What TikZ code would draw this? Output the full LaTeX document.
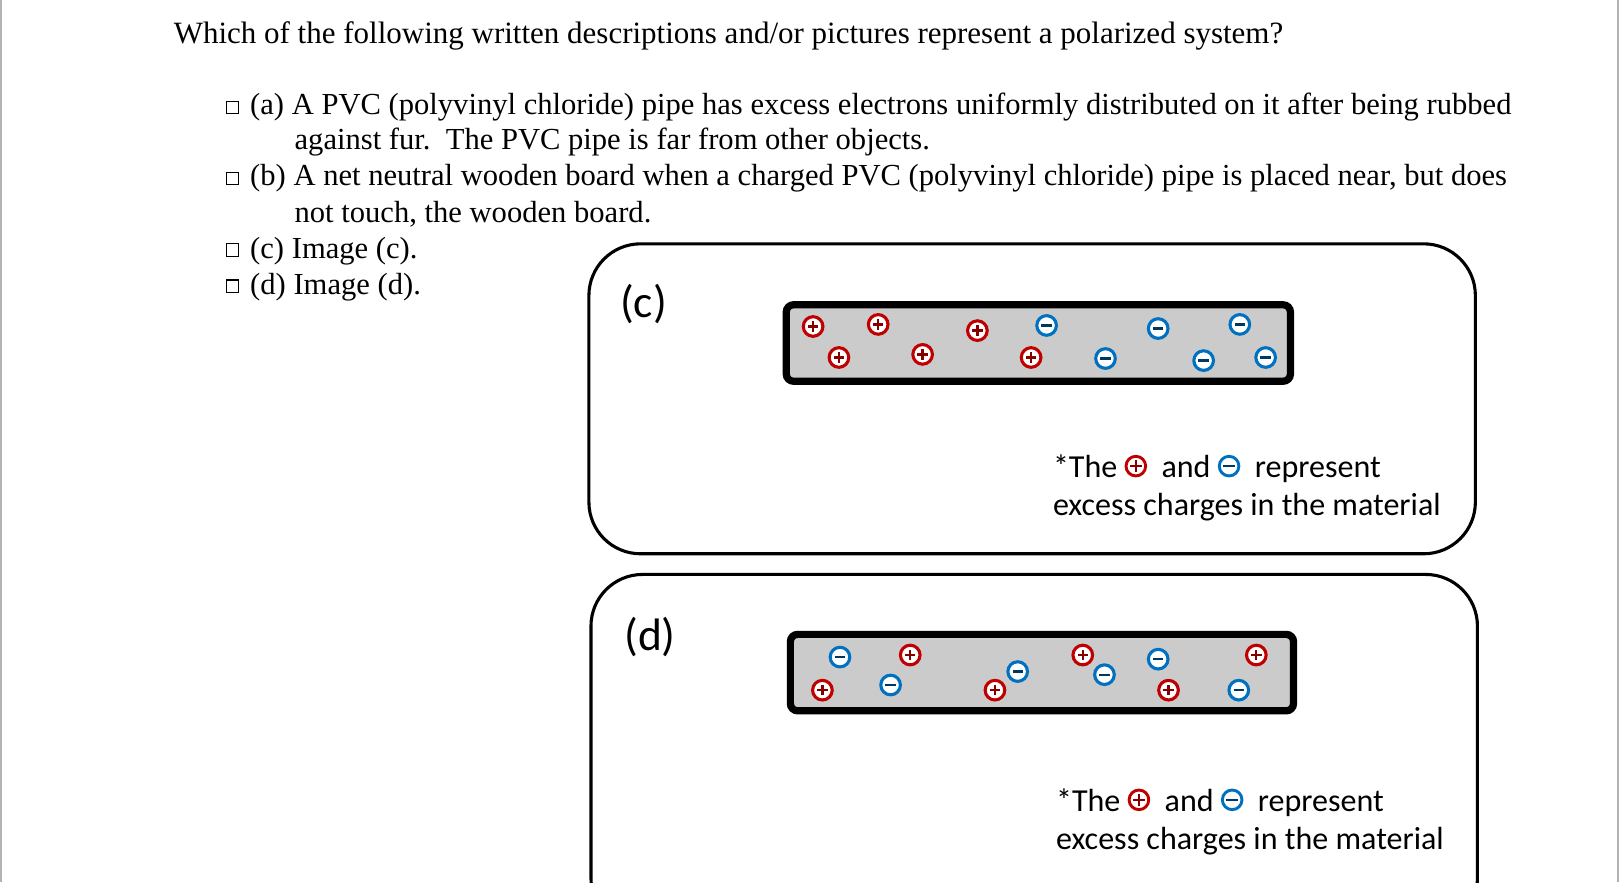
\documentclass[tikz,border=0pt]{standalone}
\usepackage{fontspec}
\setmainfont{Liberation Serif}
\newfontfamily\calfont{Carlito}
\definecolor{cred}{HTML}{C00000}
\definecolor{cblue}{HTML}{0070C0}
\definecolor{bargray}{HTML}{CBCBCB}
\newcommand\pchg{\tikz[baseline=-0.35em]{\draw[cred,line width=2.8pt,fill=white](0,0) circle (9.5pt);\draw[cred!70!black,line width=2.2pt](-5.5pt,0)--(5.5pt,0)(0,-5.5pt)--(0,5.5pt);}}
\newcommand\mchg{\tikz[baseline=-0.35em]{\draw[cblue,line width=2.8pt,fill=white](0,0) circle (9.5pt);\draw[cblue!50!black,line width=2.2pt](-5.5pt,0)--(5.5pt,0);}}
\begin{document}
\begin{tikzpicture}[x=1pt,y=-1pt,
  txt/.style={anchor=base west,inner sep=0pt,font=\fontsize{30}{34}\selectfont},
  itm/.style={anchor=base west,inner sep=0pt,font=\fontsize{29.6}{34}\selectfont},
  note/.style={anchor=base west,inner sep=0pt,font=\calfont\fontsize{31}{36}\selectfont},
  lab/.style={anchor=base west,inner sep=0pt,font=\calfont\fontsize{44}{50}\selectfont},
  cb/.style={draw,line width=1pt,minimum size=12pt,inner sep=0pt},
  frame/.style={draw,line width=3pt,rounded corners=50pt},
  bar/.style={draw,line width=7pt,fill=bargray,rounded corners=7pt},
  plusq/.style={circle,draw=cred,line width=3pt,fill=white,minimum size=19pt,inner sep=0pt,
    path picture={\draw[cred!70!black,line width=2.2pt](path picture bounding box.center)++(-5pt,0)--++(10pt,0)
      (path picture bounding box.center)++(0,-5pt)--++(0,10pt);}},
  minusq/.style={circle,draw=cblue,line width=3pt,fill=white,minimum size=19pt,inner sep=0pt,
    path picture={\draw[cblue!50!black,line width=2.2pt](path picture bounding box.center)++(-5pt,0)--++(10pt,0);}}]
\useasboundingbox (0,0) rectangle (1568,854);
\draw[gray!60,line width=1.5pt] (1,0)--(1,854) (1566,0)--(1566,854);
\node[txt] (q) at (168,42) {Which of the following written descriptions and/or pictures represent a polarized system?};
\node[cb] (ca) at (225,104) {};
\node[itm] (ta) at (242,111) {(a) A PVC (polyvinyl chloride) pipe has excess electrons uniformly distributed on it after being rubbed};
\node[itm] (ta2) at (285,145) {against fur.\ \ The PVC pipe is far from other objects.};
\node[cb] (cbb) at (225,173) {};
\node[itm] (tb) at (242,180) {(b) A net neutral wooden board when a charged PVC (polyvinyl chloride) pipe is placed near, but does};
\node[itm] (tb2) at (285,215) {not touch, the wooden board.};
\node[cb] (ccc) at (225,242) {};
\node[itm] (tc) at (242,250) {(c) Image (c).};
\node[cb] (cdd) at (225,277) {};
\node[itm] (td) at (242,285) {(d) Image (d).};
% box c
\draw[frame] (570,236) rectangle (1428,536);
\node[lab] (lc) at (600,307) {(c)};
\draw[bar] (761,295) rectangle (1249,369);
\foreach \x/\y [count=\i] in {787/316,850/314,812/346,893/343,946/320,998/346}
  \node[plusq] (cp\i) at (\x,\y) {};
\foreach \x/\y [count=\i] in {1013/315,1121/318,1200/314,1070/347,1165/349,1225/346}
  \node[minusq] (cn\i) at (\x,\y) {};
\node[note] (nc1) at (1019,462) {*The\ \pchg\ \ and\ \mchg\ \ represent};
\node[note] (nc2) at (1019,499) {excess charges in the material};
% box d
\draw[frame] (572,556) rectangle (1430,900);
\node[lab] (ld) at (604,630) {(d)};
\draw[bar] (765,614) rectangle (1252,688);
\foreach \x/\y [count=\i] in {813/636,862/663,985/650,1069/653,1121/638,1199/668}
  \node[minusq] (dn\i) at (\x,\y) {};
\foreach \x/\y [count=\i] in {796/668,881/634,963/668,1048/634,1131/668,1216/634}
  \node[plusq] (dp\i) at (\x,\y) {};
\node[note] (nd1) at (1022,785) {*The\ \pchg\ \ and\ \mchg\ \ represent};
\node[note] (nd2) at (1022,822) {excess charges in the material};
\end{tikzpicture}
\end{document}
